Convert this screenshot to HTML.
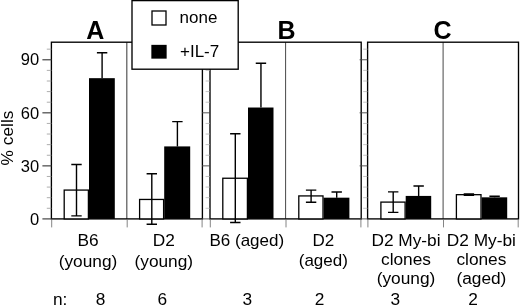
<!DOCTYPE html>
<html><head><meta charset="utf-8"><title>Figure</title>
<style>html,body{margin:0;padding:0;background:#fff}svg{display:block}</style></head>
<body><svg width="520" height="306" viewBox="0 0 520 306">
<rect width="520" height="306" fill="#fff"/>
<path d="M126.8 42.2V218.9" fill="none" stroke="#555" stroke-width="1.2"/>
<rect x="51.4" y="42.2" width="151.00" height="176.70" fill="none" stroke="#000" stroke-width="1.35"/>
<path d="M51.70 218.9V227.4" fill="none" stroke="#666" stroke-width="0.8"/>
<path d="M127.20 218.9V227.4" fill="none" stroke="#666" stroke-width="0.8"/>
<path d="M202.10 218.9V227.4" fill="none" stroke="#666" stroke-width="0.8"/>
<path d="M285.6 42.2V218.9" fill="none" stroke="#333" stroke-width="0.9"/>
<rect x="210.0" y="42.2" width="151.20" height="176.70" fill="none" stroke="#000" stroke-width="1.35"/>
<path d="M210.30 218.9V227.4" fill="none" stroke="#666" stroke-width="0.8"/>
<path d="M286.00 218.9V227.4" fill="none" stroke="#666" stroke-width="0.8"/>
<path d="M360.90 218.9V227.4" fill="none" stroke="#666" stroke-width="0.8"/>
<path d="M443.1 42.2V218.9" fill="none" stroke="#333" stroke-width="0.9"/>
<rect x="367.6" y="42.2" width="150.90" height="176.70" fill="none" stroke="#000" stroke-width="1.35"/>
<path d="M367.90 218.9V227.4" fill="none" stroke="#666" stroke-width="0.8"/>
<path d="M443.50 218.9V227.4" fill="none" stroke="#666" stroke-width="0.8"/>
<path d="M518.20 218.9V227.4" fill="none" stroke="#666" stroke-width="0.8"/>
<path d="M42.4 218.90H51.4" stroke="#444" stroke-width="1.2"/>
<path d="M46.8 208.29H51.4" stroke="#999" stroke-width="0.8"/>
<path d="M46.8 197.68H51.4" stroke="#999" stroke-width="0.8"/>
<path d="M46.8 187.08H51.4" stroke="#999" stroke-width="0.8"/>
<path d="M46.8 176.47H51.4" stroke="#999" stroke-width="0.8"/>
<path d="M42.4 165.86H51.4" stroke="#444" stroke-width="1.2"/>
<path d="M46.8 155.25H51.4" stroke="#999" stroke-width="0.8"/>
<path d="M46.8 144.64H51.4" stroke="#999" stroke-width="0.8"/>
<path d="M46.8 134.04H51.4" stroke="#999" stroke-width="0.8"/>
<path d="M46.8 123.43H51.4" stroke="#999" stroke-width="0.8"/>
<path d="M42.4 112.82H51.4" stroke="#444" stroke-width="1.2"/>
<path d="M46.8 102.21H51.4" stroke="#999" stroke-width="0.8"/>
<path d="M46.8 91.60H51.4" stroke="#999" stroke-width="0.8"/>
<path d="M46.8 81.00H51.4" stroke="#999" stroke-width="0.8"/>
<path d="M46.8 70.39H51.4" stroke="#999" stroke-width="0.8"/>
<path d="M42.4 59.78H51.4" stroke="#444" stroke-width="1.2"/>
<path d="M46.8 49.17H51.4" stroke="#999" stroke-width="0.8"/>
<path d="M202.0 218.90H210.0" stroke="#444" stroke-width="0.9"/>
<path d="M205.6 208.29H210.0" stroke="#aaa" stroke-width="0.7"/>
<path d="M205.6 197.68H210.0" stroke="#aaa" stroke-width="0.7"/>
<path d="M205.6 187.08H210.0" stroke="#aaa" stroke-width="0.7"/>
<path d="M205.6 176.47H210.0" stroke="#aaa" stroke-width="0.7"/>
<path d="M202.0 165.86H210.0" stroke="#444" stroke-width="0.9"/>
<path d="M205.6 155.25H210.0" stroke="#aaa" stroke-width="0.7"/>
<path d="M205.6 144.64H210.0" stroke="#aaa" stroke-width="0.7"/>
<path d="M205.6 134.04H210.0" stroke="#aaa" stroke-width="0.7"/>
<path d="M205.6 123.43H210.0" stroke="#aaa" stroke-width="0.7"/>
<path d="M202.0 112.82H210.0" stroke="#444" stroke-width="0.9"/>
<path d="M205.6 102.21H210.0" stroke="#aaa" stroke-width="0.7"/>
<path d="M205.6 91.60H210.0" stroke="#aaa" stroke-width="0.7"/>
<path d="M205.6 81.00H210.0" stroke="#aaa" stroke-width="0.7"/>
<path d="M205.6 70.39H210.0" stroke="#aaa" stroke-width="0.7"/>
<path d="M202.0 59.78H210.0" stroke="#444" stroke-width="0.9"/>
<path d="M205.6 49.17H210.0" stroke="#aaa" stroke-width="0.7"/>
<path d="M359.6 218.90H367.6" stroke="#444" stroke-width="0.9"/>
<path d="M363.20000000000005 208.29H367.6" stroke="#aaa" stroke-width="0.7"/>
<path d="M363.20000000000005 197.68H367.6" stroke="#aaa" stroke-width="0.7"/>
<path d="M363.20000000000005 187.08H367.6" stroke="#aaa" stroke-width="0.7"/>
<path d="M363.20000000000005 176.47H367.6" stroke="#aaa" stroke-width="0.7"/>
<path d="M359.6 165.86H367.6" stroke="#444" stroke-width="0.9"/>
<path d="M363.20000000000005 155.25H367.6" stroke="#aaa" stroke-width="0.7"/>
<path d="M363.20000000000005 144.64H367.6" stroke="#aaa" stroke-width="0.7"/>
<path d="M363.20000000000005 134.04H367.6" stroke="#aaa" stroke-width="0.7"/>
<path d="M363.20000000000005 123.43H367.6" stroke="#aaa" stroke-width="0.7"/>
<path d="M359.6 112.82H367.6" stroke="#444" stroke-width="0.9"/>
<path d="M363.20000000000005 102.21H367.6" stroke="#aaa" stroke-width="0.7"/>
<path d="M363.20000000000005 91.60H367.6" stroke="#aaa" stroke-width="0.7"/>
<path d="M363.20000000000005 81.00H367.6" stroke="#aaa" stroke-width="0.7"/>
<path d="M363.20000000000005 70.39H367.6" stroke="#aaa" stroke-width="0.7"/>
<path d="M359.6 59.78H367.6" stroke="#444" stroke-width="0.9"/>
<path d="M363.20000000000005 49.17H367.6" stroke="#aaa" stroke-width="0.7"/>
<rect x="64.20" y="190.08" width="24.20" height="28.82" fill="#fff" stroke="#000" stroke-width="1.3"/>
<path d="M76.50 215.89V164.45M71.30 164.45H81.70M71.30 215.89H81.70" stroke="#000" stroke-width="1.4" fill="none"/>
<rect x="89.00" y="78.17" width="25.80" height="140.73" fill="#000"/>
<path d="M102.10 78.17V52.71M96.90 52.71H107.30" stroke="#000" stroke-width="1.4" fill="none"/>
<rect x="139.60" y="199.45" width="24.00" height="19.45" fill="#fff" stroke="#000" stroke-width="1.3"/>
<path d="M151.80 224.20V173.82M146.60 173.82H157.00M146.60 224.20H157.00" stroke="#000" stroke-width="1.4" fill="none"/>
<rect x="164.20" y="146.41" width="26.00" height="72.49" fill="#000"/>
<path d="M177.40 146.41V121.66M172.20 121.66H182.60" stroke="#000" stroke-width="1.4" fill="none"/>
<rect x="222.80" y="178.24" width="24.60" height="40.66" fill="#fff" stroke="#000" stroke-width="1.3"/>
<path d="M235.30 222.44V133.68M230.10 133.68H240.50M230.10 222.44H240.50" stroke="#000" stroke-width="1.4" fill="none"/>
<rect x="248.00" y="107.52" width="25.50" height="111.38" fill="#000"/>
<path d="M260.95 107.52V63.32M255.75 63.32H266.15" stroke="#000" stroke-width="1.4" fill="none"/>
<rect x="298.80" y="195.92" width="24.20" height="22.98" fill="#fff" stroke="#000" stroke-width="1.3"/>
<path d="M311.10 202.28V190.08M305.90 190.08H316.30M305.90 202.28H316.30" stroke="#000" stroke-width="1.4" fill="none"/>
<rect x="323.60" y="197.68" width="25.80" height="21.22" fill="#000"/>
<path d="M336.70 197.68V192.03M331.50 192.03H341.90" stroke="#000" stroke-width="1.4" fill="none"/>
<rect x="380.90" y="202.10" width="24.20" height="16.80" fill="#fff" stroke="#000" stroke-width="1.3"/>
<path d="M393.20 212.36V191.85M388.00 191.85H398.40M388.00 212.36H398.40" stroke="#000" stroke-width="1.4" fill="none"/>
<rect x="405.70" y="195.92" width="25.50" height="22.98" fill="#000"/>
<path d="M418.65 195.92V186.02M413.45 186.02H423.85" stroke="#000" stroke-width="1.4" fill="none"/>
<rect x="456.40" y="194.68" width="24.60" height="24.22" fill="#fff" stroke="#000" stroke-width="1.3"/>
<path d="M468.90 195.21V193.97M463.70 193.97H474.10M463.70 195.21H474.10" stroke="#000" stroke-width="1.4" fill="none"/>
<rect x="481.60" y="197.33" width="25.60" height="21.57" fill="#000"/>
<path d="M494.60 197.33V196.27M489.40 196.27H499.80" stroke="#000" stroke-width="1.4" fill="none"/>
<rect x="132" y="0.6" width="106.2" height="68.6" fill="#fff" stroke="#000" stroke-width="1.35"/>
<rect x="152" y="11" width="14" height="14" fill="#fff" stroke="#000" stroke-width="1.3"/>
<rect x="152" y="45.5" width="14" height="12.5" fill="#000" stroke="#000" stroke-width="1.3"/>
<text x="179.6" y="23.0" font-size="17" font-family="Liberation Sans, Arial, Helvetica, sans-serif">none</text>
<text x="180" y="57.3" font-size="17" font-family="Liberation Sans, Arial, Helvetica, sans-serif">+IL-7</text>
<text x="95.2" y="39.4" font-size="25" font-weight="bold" text-anchor="middle" font-family="Liberation Sans, Arial, Helvetica, sans-serif">A</text>
<text x="286.6" y="39.4" font-size="25" font-weight="bold" text-anchor="middle" font-family="Liberation Sans, Arial, Helvetica, sans-serif">B</text>
<text x="442.6" y="39.4" font-size="25" font-weight="bold" text-anchor="middle" font-family="Liberation Sans, Arial, Helvetica, sans-serif">C</text>
<text x="39.1" y="224.60" font-size="16.5" text-anchor="end" font-family="Liberation Sans, Arial, Helvetica, sans-serif">0</text>
<text x="39.1" y="171.56" font-size="16.5" text-anchor="end" font-family="Liberation Sans, Arial, Helvetica, sans-serif">30</text>
<text x="39.1" y="118.52" font-size="16.5" text-anchor="end" font-family="Liberation Sans, Arial, Helvetica, sans-serif">60</text>
<text x="39.1" y="65.48" font-size="16.5" text-anchor="end" font-family="Liberation Sans, Arial, Helvetica, sans-serif">90</text>
<text transform="translate(13.2 138) rotate(-90)" font-size="17.3" text-anchor="middle" font-family="Liberation Sans, Arial, Helvetica, sans-serif">% cells</text>
<text x="88" y="245.60" font-size="17.3" text-anchor="middle" font-family="Liberation Sans, Arial, Helvetica, sans-serif">B6</text>
<text x="88" y="266.50" font-size="17.3" text-anchor="middle" font-family="Liberation Sans, Arial, Helvetica, sans-serif">(young)</text>
<text x="163.8" y="245.60" font-size="17.3" text-anchor="middle" font-family="Liberation Sans, Arial, Helvetica, sans-serif">D2</text>
<text x="163.8" y="266.50" font-size="17.3" text-anchor="middle" font-family="Liberation Sans, Arial, Helvetica, sans-serif">(young)</text>
<text x="246.8" y="245.60" font-size="17.0" text-anchor="middle" font-family="Liberation Sans, Arial, Helvetica, sans-serif">B6 (aged)</text>
<text x="323.3" y="245.60" font-size="17.0" text-anchor="middle" font-family="Liberation Sans, Arial, Helvetica, sans-serif">D2</text>
<text x="323.3" y="266.20" font-size="17.0" text-anchor="middle" font-family="Liberation Sans, Arial, Helvetica, sans-serif">(aged)</text>
<text x="406" y="245.60" font-size="17.3" text-anchor="middle" font-family="Liberation Sans, Arial, Helvetica, sans-serif">D2 My-bi</text>
<text x="406" y="265.00" font-size="17.3" text-anchor="middle" font-family="Liberation Sans, Arial, Helvetica, sans-serif">clones</text>
<text x="406" y="284.40" font-size="17.3" text-anchor="middle" font-family="Liberation Sans, Arial, Helvetica, sans-serif">(young)</text>
<text x="481.4" y="245.60" font-size="17.3" text-anchor="middle" font-family="Liberation Sans, Arial, Helvetica, sans-serif">D2 My-bi</text>
<text x="481.4" y="265.00" font-size="17.3" text-anchor="middle" font-family="Liberation Sans, Arial, Helvetica, sans-serif">clones</text>
<text x="481.4" y="284.40" font-size="17.3" text-anchor="middle" font-family="Liberation Sans, Arial, Helvetica, sans-serif">(aged)</text>
<text x="53" y="304.6" font-size="17.3" font-family="Liberation Sans, Arial, Helvetica, sans-serif">n:</text>
<text x="100.6" y="304.6" font-size="17.3" text-anchor="middle" font-family="Liberation Sans, Arial, Helvetica, sans-serif">8</text>
<text x="162.3" y="304.6" font-size="17.3" text-anchor="middle" font-family="Liberation Sans, Arial, Helvetica, sans-serif">6</text>
<text x="247.4" y="304.6" font-size="17.3" text-anchor="middle" font-family="Liberation Sans, Arial, Helvetica, sans-serif">3</text>
<text x="319.6" y="304.6" font-size="17.3" text-anchor="middle" font-family="Liberation Sans, Arial, Helvetica, sans-serif">2</text>
<text x="395.4" y="304.6" font-size="17.3" text-anchor="middle" font-family="Liberation Sans, Arial, Helvetica, sans-serif">3</text>
<text x="473" y="304.6" font-size="17.3" text-anchor="middle" font-family="Liberation Sans, Arial, Helvetica, sans-serif">2</text>
</svg></body></html>
